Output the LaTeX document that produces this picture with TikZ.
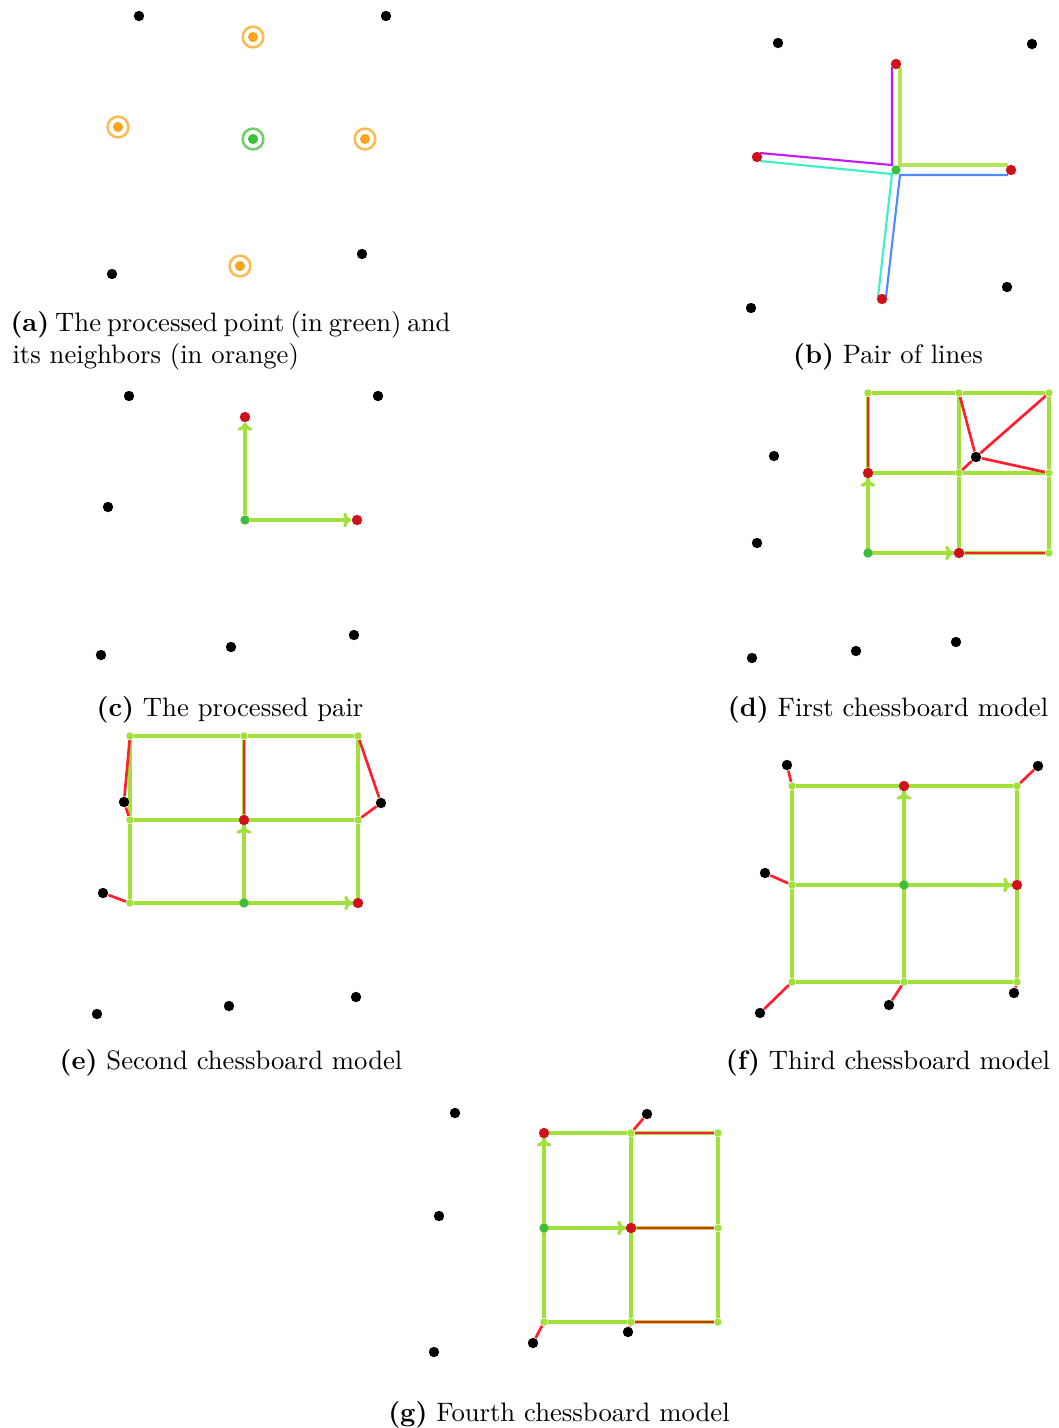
\documentclass[tikz,border=0pt]{standalone}
\usepackage{tikz}
\usetikzlibrary{calc,arrows.meta,positioning}
\definecolor{dotred}{HTML}{D0101A}
\definecolor{dotgrn}{HTML}{3EBE3A}
\definecolor{nbor}{HTML}{F8A51C}
\definecolor{gridc}{HTML}{A2E03C}
\definecolor{redl}{HTML}{FF1F2E}
\definecolor{magl}{HTML}{C21CF0}
\definecolor{cyl}{HTML}{3CF0C8}
\definecolor{bll}{HTML}{4F8BFF}
\definecolor{grl}{HTML}{B4E45A}
\tikzset{
  bk/.style={circle,fill=black,minimum size=3.9pt,inner sep=0pt},
  rp/.style={circle,fill=dotred,minimum size=3.9pt,inner sep=0pt},
  gp/.style={circle,fill=dotgrn,minimum size=3.5pt,inner sep=0pt},
  gd/.style={circle,fill=gridc,minimum size=2.8pt,inner sep=0pt},
  nbr/.style={circle,draw=#1!75,line width=0.95pt,fill=white,minimum size=7.8pt,inner sep=0pt,
    path picture={\fill[#1] (path picture bounding box.center) circle (1.9pt);}},
  gl/.style={gridc,line width=1.2pt},
  rl/.style={redl,line width=1pt},
  ar/.style={-{To[length=3pt,width=5.5pt]},gridc,line width=1.2pt},
  captxt/.style={inner sep=0pt,anchor=base}
}

\begin{document}
\begin{tikzpicture}[x=0.375pt,y=-0.375pt]
\useasboundingbox (0,0) rectangle (1059,1428);
% (a)
\node[bk] (a1) at (139,16) {}; \node[bk] (a2) at (386,16) {}; \node[bk] (a3) at (112,274) {}; \node[bk] (a4) at (362,254) {};
\node[nbr=nbor] (a5) at (253,37) {}; \node[nbr=nbor] (a6) at (118,127) {}; \node[nbr=nbor] (a7) at (365,139) {}; \node[nbr=nbor] (a8) at (240,266) {};
\node[nbr=dotgrn] (a0) at (253,139) {};
\node[captxt,anchor=base west] (capa) at (10,331) {\makebox[164pt][s]{\textbf{(a)} The processed point (in green) and}};
\node[captxt,anchor=base west] (capa2) at (12,363) {its neighbors (in orange)};
% (b)
\node[bk] (b1) at (778,43) {}; \node[bk] (b2) at (1032,44) {}; \node[bk] (b3) at (1007,287) {}; \node[bk] (b4) at (751,308) {};
\coordinate (bT) at (896,64); \coordinate (bL) at (757,157); \coordinate (bC) at (896,170); \coordinate (bR) at (1011,170); \coordinate (bB) at (882,299);
\draw[magl,line width=0.8pt] ($(bT)+(-4,3)$) -- ($(bC)+(-4,-5)$) -- ($(bL)+(3,-4)$);
\draw[grl,line width=1.2pt] ($(bT)+(4,3)$) -- ($(bC)+(4,-5)$) -- ($(bR)+(-3,-5)$);
\draw[bll,line width=0.8pt] ($(bR)+(-3,5)$) -- ($(bC)+(4,5)$) -- ($(bB)+(4,-2)$);
\draw[cyl,line width=0.8pt] ($(bL)+(3,4)$) -- ($(bC)+(-4,4)$) -- ($(bB)+(-4,-2)$);
\node[rp] (bTd) at (bT) {}; \node[rp] (bLd) at (bL) {}; \node[rp] (bRd) at (bR) {}; \node[rp] (bBd) at (bB) {};
\node[gp] (bCd) at (bC) {};
\node[captxt] (capb) at (888,363) {\textbf{(b)} Pair of lines};
% (c)
\node[bk] (c1) at (129,396) {}; \node[bk] (c2) at (378,396) {}; \node[bk] (c3) at (108,507) {};
\node[bk] (c4) at (101,655) {}; \node[bk] (c5) at (231,647) {}; \node[bk] (c6) at (354,635) {};
\node[rp] (cu) at (245,417) {}; \node[rp] (cr) at (357,520) {}; \node[gp] (c0) at (245,520) {};
\draw[ar] (c0)--(cu); \draw[ar] (c0)--(cr);
\node[captxt] (capc) at (230,716) {\textbf{(c)} The processed pair};
% (d)
\foreach \i/\x in {1/868,2/959,3/1049}{\foreach \j/\y in {1/393,2/473,3/553}{\node[gd] (d\i\j) at (\x,\y) {};}}
\foreach \j in {1,2,3}{\draw[gl] (d1\j)--(d2\j)--(d3\j); \draw[gl] (d\j1)--(d\j2)--(d\j3);}
\node[bk] (db1) at (774,456) {}; \node[bk] (db2) at (757,543) {}; \node[bk] (db3) at (752,658) {};
\node[bk] (db4) at (856,651) {}; \node[bk] (db5) at (956,642) {}; \node[bk] (db6) at (976,457) {};
\node[gp] (d13) at (868,553) {}; \node[rp] (d23) at (959,553) {}; \node[rp] (d12) at (868,473) {};
\draw[rl] (d11)--(d12); \draw[rl] (d23)--(d33);
\draw[rl] (d21)--(db6); \draw[rl] (d31)--(db6); \draw[rl] (d32)--(db6); \draw[rl] (d22)--(db6);
\draw[ar] (d13)--(d23); \draw[ar] (d13)--(d12);
\node[captxt] (capd) at (888,716) {\textbf{(d)} First chessboard model};
% (e)
\foreach \i/\x in {1/130,2/244,3/358}{\foreach \j/\y in {1/736,2/820,3/903}{\node[gd] (e\i\j) at (\x,\y) {};}}
\foreach \j in {1,2,3}{\draw[gl] (e1\j)--(e2\j)--(e3\j); \draw[gl] (e\j1)--(e\j2)--(e\j3);}
\node[bk] (eb1) at (124,802) {}; \node[bk] (eb2) at (381,803) {}; \node[bk] (eb3) at (103,893) {};
\node[bk] (eb4) at (97,1014) {}; \node[bk] (eb5) at (229,1006) {}; \node[bk] (eb6) at (356,997) {};
\node[gp] (e23) at (244,903) {}; \node[rp] (e33) at (358,903) {}; \node[rp] (e22) at (244,820) {};
\draw[rl] (e11)--(eb1)--(e12); \draw[rl] (e21)--(e22); \draw[rl] (e31)--(eb2)--(e32); \draw[rl] (eb3)--(e13);
\draw[ar] (e23)--(e33); \draw[ar] (e23)--(e22);
\node[captxt] (cape) at (231,1069) {\textbf{(e)} Second chessboard model};
% (f)
\foreach \i/\x in {1/792,2/904,3/1017}{\foreach \j/\y in {1/786,2/885,3/982}{\node[gd] (f\i\j) at (\x,\y) {};}}
\foreach \j in {1,2,3}{\draw[gl] (f1\j)--(f2\j)--(f3\j); \draw[gl] (f\j1)--(f\j2)--(f\j3);}
\node[bk] (fb1) at (787,765) {}; \node[bk] (fb2) at (1038,766) {}; \node[bk] (fb3) at (765,873) {};
\node[bk] (fb4) at (760,1013) {}; \node[bk] (fb5) at (889,1005) {}; \node[bk] (fb6) at (1014,993) {};
\node[gp] (f22) at (904,885) {}; \node[rp] (f21) at (904,786) {}; \node[rp] (f32) at (1017,885) {};
\draw[rl] (fb1)--(f11); \draw[rl] (fb2)--(f31); \draw[rl] (fb3)--(f12);
\draw[rl] (fb4)--(f13); \draw[rl] (fb5)--(f23); \draw[rl] (fb6)--(f33);
\draw[ar] (f22)--(f21); \draw[ar] (f22)--(f32);
\node[captxt] (capf) at (888,1069) {\textbf{(f)} Third chessboard model};
% (g)
\foreach \i/\x in {1/544,2/631,3/718}{\foreach \j/\y in {1/1133,2/1228,3/1322}{\node[gd] (g\i\j) at (\x,\y) {};}}
\foreach \j in {1,2,3}{\draw[gl] (g1\j)--(g2\j)--(g3\j); \draw[gl] (g\j1)--(g\j2)--(g\j3);}
\node[bk] (gb1) at (455,1113) {}; \node[bk] (gb2) at (439,1216) {}; \node[bk] (gb3) at (434,1352) {};
\node[bk] (gb4) at (647,1114) {}; \node[bk] (gb5) at (533,1343) {}; \node[bk] (gb6) at (628,1332) {};
\node[gp] (g12) at (544,1228) {}; \node[rp] (g11) at (544,1133) {}; \node[rp] (g22) at (631,1228) {};
\draw[rl] (g21)--(gb4); \draw[rl] (g21)--(g31); \draw[rl] (g22)--(g32); \draw[rl] (g23)--(g33);
\draw[rl] (g13)--(gb5); \draw[rl] (g23)--(gb6);
\draw[ar] (g12)--(g11); \draw[ar] (g12)--(g22);
\node[captxt] (capg) at (559,1421) {\textbf{(g)} Fourth chessboard model};
\end{tikzpicture}
\end{document}
